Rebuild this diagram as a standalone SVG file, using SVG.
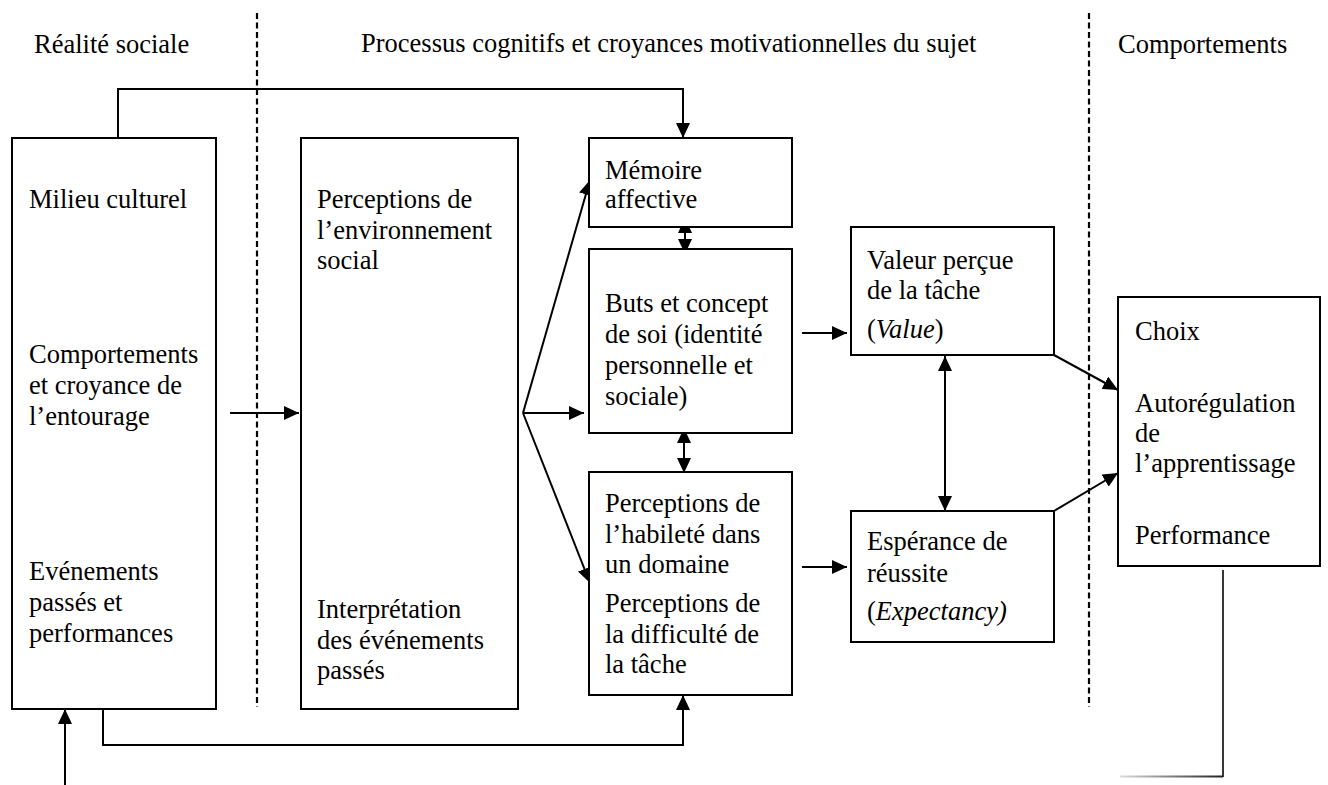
<svg xmlns="http://www.w3.org/2000/svg" width="1328" height="785" viewBox="0 0 1328 785">
<style>
text{font-family:"Liberation Serif","Times New Roman",serif;font-size:26.5px;fill:#000}
.box{fill:#fff;stroke:#000;stroke-width:2}
.ln{fill:none;stroke:#000;stroke-width:2}
.arr{fill:none;stroke:#000;stroke-width:2;marker-end:url(#ah)}
.dbl{fill:none;stroke:#000;stroke-width:2;marker-end:url(#ah);marker-start:url(#ah)}
.dash{stroke:#000;stroke-width:2.2;stroke-dasharray:6 3.5}
.it{font-style:italic}
</style>
<defs>
<marker id="ah" viewBox="0 0 15 14" refX="15" refY="7" markerWidth="15" markerHeight="14" markerUnits="userSpaceOnUse" orient="auto-start-reverse"><path d="M0,0 L15,7 L0,14 z" fill="#000"/></marker>
<linearGradient id="fade" gradientUnits="userSpaceOnUse" x1="1120" y1="0" x2="1223" y2="0"><stop offset="0" stop-color="#ddd"/><stop offset="1" stop-color="#222"/></linearGradient>
</defs>
<rect width="1328" height="785" fill="#fff"/>
<g id="headers">
<text x="34" y="53">Réalité sociale</text>
<text x="361" y="52">Processus cognitifs et croyances motivationnelles du sujet</text>
<text x="1118" y="53">Comportements</text>
<line class="dash" x1="257" y1="13" x2="257" y2="707"/>
<line class="dash" x1="1089" y1="13" x2="1089" y2="707"/>
</g>
<g id="connectors">
<path class="arr" d="M118,138 V89 H683 V138"/>
<path class="arr" d="M103,709 V745 H683 V695"/>
<line class="arr" x1="65" y1="785" x2="65" y2="709"/>
<line class="arr" x1="230" y1="413" x2="299" y2="413"/>
<line class="arr" x1="523" y1="413" x2="590" y2="180"/>
<line class="arr" x1="523" y1="413" x2="584" y2="413"/>
<line class="arr" x1="523" y1="413" x2="590" y2="583"/>
<line class="dbl" x1="685" y1="218" x2="685" y2="254"/>
<line class="dbl" x1="684" y1="428" x2="684" y2="473"/>
<line class="arr" x1="802" y1="333" x2="847" y2="333"/>
<line class="arr" x1="802" y1="567" x2="847" y2="567"/>
<line class="dbl" x1="945" y1="356" x2="945" y2="511"/>
<line class="arr" x1="1054" y1="355" x2="1118" y2="390"/>
<line class="arr" x1="1054" y1="511" x2="1118" y2="473"/>
<line x1="1223" y1="570" x2="1223" y2="777" stroke="#222" stroke-width="1.8"/>
<line x1="1120" y1="776.5" x2="1223" y2="776.5" stroke="url(#fade)" stroke-width="2"/>
</g>
<g id="realite">
<rect class="box" x="12" y="138" width="204" height="571"/>
<text x="29" y="208">Milieu culturel</text>
<text x="29" y="363">Comportements</text>
<text x="29" y="394">et croyance de</text>
<text x="29" y="425">l’entourage</text>
<text x="29" y="580">Evénements</text>
<text x="29" y="611">passés et</text>
<text x="29" y="642">performances</text>
</g>
<g id="perceptions-env">
<rect class="box" x="301" y="138" width="217" height="571"/>
<text x="317" y="208">Perceptions de</text>
<text x="317" y="239">l’environnement</text>
<text x="317" y="269">social</text>
<text x="317" y="618">Interprétation</text>
<text x="317" y="649">des événements</text>
<text x="317" y="679">passés</text>
</g>
<g id="memoire">
<rect class="box" x="589" y="138" width="203" height="89"/>
<text x="605" y="179">Mémoire</text>
<text x="605" y="208">affective</text>
</g>
<g id="buts">
<rect class="box" x="589" y="249" width="203" height="184"/>
<text x="605" y="312">Buts et concept</text>
<text x="605" y="343">de soi (identité</text>
<text x="605" y="374">personnelle et</text>
<text x="605" y="405">sociale)</text>
</g>
<g id="perceptions-habilete">
<rect class="box" x="589" y="472" width="203" height="223"/>
<text x="605" y="512">Perceptions de</text>
<text x="605" y="543">l’habileté dans</text>
<text x="605" y="573">un domaine</text>
<text x="605" y="612">Perceptions de</text>
<text x="605" y="643">la difficulté de</text>
<text x="605" y="673">la tâche</text>
</g>
<g id="valeur">
<rect class="box" x="851" y="227" width="203" height="128"/>
<text x="867" y="269">Valeur perçue</text>
<text x="867" y="299">de la tâche</text>
<text x="867" y="338">(<tspan class="it">Value</tspan>)</text>
</g>
<g id="esperance">
<rect class="box" x="851" y="511" width="203" height="131"/>
<text x="867" y="550">Espérance de</text>
<text x="867" y="582">réussite</text>
<text x="867" y="620">(<tspan class="it">Expectancy)</tspan></text>
</g>
<g id="comportements">
<rect class="box" x="1118" y="297" width="202" height="269"/>
<text x="1135" y="340">Choix</text>
<text x="1135" y="412">Autorégulation</text>
<text x="1135" y="442">de</text>
<text x="1135" y="472">l’apprentissage</text>
<text x="1135" y="544">Performance</text>
</g>
</svg>
